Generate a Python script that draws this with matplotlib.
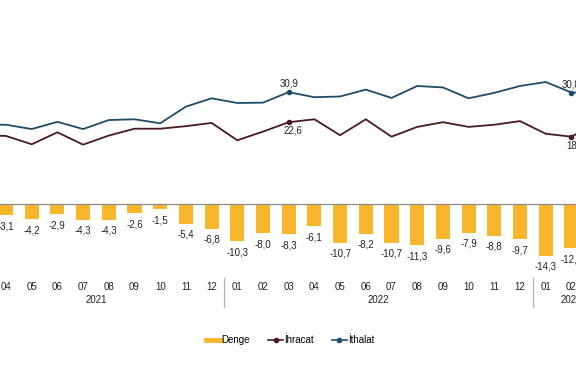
import numpy as np
import matplotlib.pyplot as plt
from matplotlib.lines import Line2D

plt.rcParams['font.family'] = ['Liberation Sans', 'DejaVu Sans']

# monthly foreign trade, billion USD (2021-03 .. 2023-03)
months = ['03', '04', '05', '06', '07', '08', '09', '10', '11', '12',
          '01', '02', '03', '04', '05', '06', '07', '08', '09', '10', '11', '12',
          '01', '02', '03']
years = ['2021', '2022', '2023']
year_span = [(0, 9), (10, 21), (22, 24)]
ihracat = [19.0, 18.8, 16.5, 19.8, 16.4, 18.9, 20.8, 20.8, 21.5, 22.4,
           17.6, 20.0, 22.6, 23.4, 19.0, 23.4, 18.6, 21.3, 22.6, 21.3, 21.9, 22.9,
           19.4, 18.6, 22.4]
ithalat = [21.9, 21.9, 20.7, 22.7, 20.7, 23.2, 23.4, 22.3, 26.9, 29.2,
           27.9, 28.0, 30.9, 29.5, 29.7, 31.6, 29.3, 32.6, 32.2, 29.2, 30.7, 32.6,
           33.7, 30.8, 30.6]
denge = [-2.9, -3.1, -4.2, -2.9, -4.3, -4.3, -2.6, -1.5, -5.4, -6.8,
         -10.3, -8.0, -8.3, -6.1, -10.7, -8.2, -10.7, -11.3, -9.6, -7.9, -8.8, -9.7,
         -14.3, -12.2, -8.2]
labelled = [12, 23]

c_bar = '#F8B62C'
c_exp = '#4B1A20'
c_imp = '#1F4C68'

def fmt(v):
    return ('%.1f' % v).replace('.', ',')

W, H = 576, 375
fig = plt.figure(figsize=(W / 100, H / 100), dpi=100)
ax = fig.add_axes([0, 0, 1, 1])
ax.axis('off')

# the view is a crop of a wider chart
step, x0 = 25.7, -19.7
py0, sc = 204, 3.62
ax.set_xlim((0 + (-x0)) / step, (W - x0) / step)
ax.set_ylim((py0 - H) / sc, py0 / sc)

x = np.arange(len(months))
ax.bar(x, denge, width=0.55, color=c_bar, zorder=2)
ax.axhline(0, color='#8c8c8c', lw=0.9, zorder=3)
ax.plot(x, ihracat, color=c_exp, lw=1.3, zorder=4)
ax.plot(x, ithalat, color=c_imp, lw=1.3, zorder=4)

for i, v in enumerate(denge):
    ax.annotate(fmt(v), (i, v), xytext=(0, -8), textcoords='offset points',
                ha='center', va='center', fontsize=7, color='#222222')

for i in labelled:
    ax.plot(i, ihracat[i], 'o', ms=3, color=c_exp, zorder=5)
    ax.plot(i, ithalat[i], 'o', ms=3, color=c_imp, zorder=5)
    ax.annotate(fmt(ithalat[i]), (i, ithalat[i]), xytext=(0, 6), textcoords='offset points',
                ha='center', va='center', fontsize=7, color='#222222')
    ax.annotate(fmt(ihracat[i]), (i, ihracat[i]), xytext=(3, -6), textcoords='offset points',
                ha='center', va='center', fontsize=7, color='#222222')

# category axis: months, years, separators
tr = ax.get_xaxis_transform()
for i, m in enumerate(months):
    ax.text(i, 1 - 287 / H, m, transform=tr, ha='center', va='center', fontsize=7, color='#222222')
for y, (a, b) in zip(years, year_span):
    ax.text((a + b) / 2, 1 - 300 / H, y, transform=tr, ha='center', va='center',
            fontsize=7, color='#222222')
    if a > 0:
        ax.plot([a - 0.5, a - 0.5], [1 - 278 / H, 1 - 307 / H], transform=tr,
                color='#b0b0b0', lw=0.9, clip_on=False)

handles = [Line2D([], [], color=c_bar, lw=3.5),
           Line2D([], [], color=c_exp, lw=1.2, marker='o', ms=3),
           Line2D([], [], color=c_imp, lw=1.2, marker='o', ms=3)]
fig.legend(handles, ['Denge', 'İhracat', 'İthalat'], ncol=3, loc='center',
           bbox_to_anchor=(290 / W, 1 - 340 / H), frameon=False, fontsize=7,
           handlelength=1.5, handletextpad=0.1, columnspacing=1.9)

fig.savefig('out.png', dpi=100)
